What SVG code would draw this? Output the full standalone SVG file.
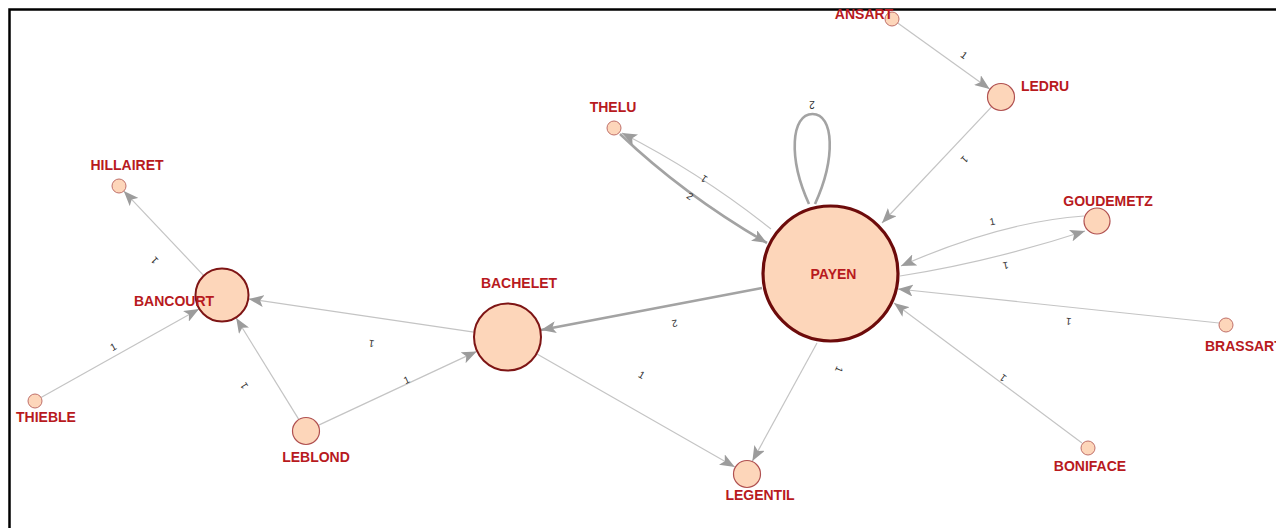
<svg xmlns="http://www.w3.org/2000/svg" width="1276" height="528" viewBox="0 0 1276 528">
<style>
.bg{fill:#fff}
.frame{fill:none;stroke:#000;stroke-width:2.5}
.e{fill:none;stroke:#c4c4c4;stroke-width:1.2}
.e2{fill:none;stroke:#a3a3a3;stroke-width:2.6}
.n{fill:#fdd6ba;stroke:#c0706a;stroke-width:1}
.nm{fill:#fdd6ba;stroke:#b05050;stroke-width:1.2}
.nb{fill:#fdd6ba;stroke:#7e1515;stroke-width:2}
.nx{fill:#fdd6ba;stroke:#6d0b0b;stroke-width:3.2}
.lbl{font-family:"Liberation Sans",Arial,sans-serif;font-size:14px;font-weight:bold;fill:#b81a1e}
.el{font-family:"Liberation Sans",Arial,sans-serif;font-size:10px;fill:#333;text-anchor:middle}
</style>
<defs>
<marker id="ah" markerUnits="userSpaceOnUse" markerWidth="16" markerHeight="12" refX="15" refY="6" orient="auto">
<path d="M0,0 L15,6 L0,12 L3.5,6 z" fill="#9c9c9c"/>
</marker>
</defs>
<rect class="bg" x="0" y="0" width="1276" height="528"/>
<path class="frame" d="M9.5,528 V9.5 H1276"/>
<g id="connectors">
<line class="e" x1="203.5" y1="275.4" x2="123.8" y2="191.1" marker-end="url(#ah)"/>
<line class="e" x1="41" y1="397.5" x2="199" y2="309" marker-end="url(#ah)"/>
<line class="e" x1="298.6" y1="419.1" x2="236.2" y2="318" marker-end="url(#ah)"/>
<line class="e" x1="473.9" y1="332.1" x2="248.7" y2="298.9" marker-end="url(#ah)"/>
<line class="e" x1="318.7" y1="425.1" x2="476.7" y2="351.4" marker-end="url(#ah)"/>
<line class="e" x1="537" y1="353.9" x2="734.8" y2="467" marker-end="url(#ah)"/>
<line class="e2" x1="762" y1="288" x2="541" y2="330" marker-end="url(#ah)"/>
<line class="e" x1="817" y1="343" x2="752.4" y2="461.1" marker-end="url(#ah)"/>
<path class="e2" d="M620,134 Q684,195 767,243" marker-end="url(#ah)"/>
<path class="e" d="M771,229 Q702,174 622,133" marker-end="url(#ah)"/>
<path class="e2" d="M809,204 C788,158 791,114 812.5,114 C834,114 836,158 815,204"/>
<line class="e" x1="897.7" y1="23.1" x2="989.6" y2="88.9" marker-end="url(#ah)"/>
<line class="e" x1="991.3" y1="107.1" x2="882" y2="223" marker-end="url(#ah)"/>
<path class="e" d="M1084,216 Q1000,222 901,266" marker-end="url(#ah)"/>
<path class="e" d="M900,276 Q990,262 1085,231" marker-end="url(#ah)"/>
<line class="e" x1="1219" y1="323" x2="898" y2="289" marker-end="url(#ah)"/>
<line class="e" x1="1082" y1="443" x2="894" y2="303" marker-end="url(#ah)"/>
<text class="el" transform="translate(157,258) rotate(226)">1</text>
<text class="el" transform="translate(115,350) rotate(-29)">1</text>
<text class="el" transform="translate(247,384) rotate(238)">1</text>
<text class="el" transform="translate(372,340) rotate(188)">1</text>
<text class="el" transform="translate(408,383) rotate(-25)">1</text>
<text class="el" transform="translate(640,378) rotate(30)">1</text>
<text class="el" transform="translate(674,320) rotate(169)">2</text>
<text class="el" transform="translate(836,368) rotate(113)">1</text>
<text class="el" transform="translate(706,176) rotate(214)">1</text>
<text class="el" transform="translate(688,199) rotate(34)">2</text>
<text class="el" transform="translate(812,101) rotate(180)">2</text>
<text class="el" transform="translate(962,58) rotate(36)">1</text>
<text class="el" transform="translate(962,157) rotate(134)">1</text>
<text class="el" transform="translate(993,225) rotate(-12)">1</text>
<text class="el" transform="translate(1005,262) rotate(168)">1</text>
<text class="el" transform="translate(1069,318) rotate(186)">1</text>
<text class="el" transform="translate(1005,375) rotate(217)">1</text>
</g>
<g id="HILLAIRET"><circle class="n" cx="119" cy="186" r="7"/><text class="lbl" x="127" y="170" text-anchor="middle">HILLAIRET</text></g>
<g id="BANCOURT"><circle class="nb" cx="222" cy="295" r="26.5"/><text class="lbl" x="174" y="306" text-anchor="middle">BANCOURT</text></g>
<g id="THIEBLE"><circle class="n" cx="35" cy="401" r="7"/><text class="lbl" x="46" y="422" text-anchor="middle">THIEBLE</text></g>
<g id="LEBLOND"><circle class="nm" cx="306" cy="431" r="13.5"/><text class="lbl" x="316" y="462" text-anchor="middle">LEBLOND</text></g>
<g id="BACHELET"><circle class="nb" cx="507.5" cy="337" r="33.5"/><text class="lbl" x="519" y="288" text-anchor="middle">BACHELET</text></g>
<g id="LEGENTIL"><circle class="nm" cx="747" cy="474" r="13.5"/><text class="lbl" x="760" y="500" text-anchor="middle">LEGENTIL</text></g>
<g id="PAYEN"><circle class="nx" cx="830.5" cy="273.5" r="67.5"/><text class="lbl" x="833.5" y="279" text-anchor="middle">PAYEN</text></g>
<g id="THELU"><circle class="n" cx="614" cy="128" r="7"/><text class="lbl" x="613" y="112" text-anchor="middle">THELU</text></g>
<g id="ANSART"><circle class="n" cx="892" cy="19" r="7"/><text class="lbl" x="864" y="19" text-anchor="middle">ANSART</text></g>
<g id="LEDRU"><circle class="nm" cx="1001" cy="97" r="13.5"/><text class="lbl" x="1045" y="91" text-anchor="middle">LEDRU</text></g>
<g id="GOUDEMETZ"><circle class="nm" cx="1097" cy="221" r="13"/><text class="lbl" x="1108" y="206" text-anchor="middle">GOUDEMETZ</text></g>
<g id="BRASSART"><circle class="n" cx="1226" cy="325" r="7"/><text class="lbl" x="1205" y="351">BRASSART</text></g>
<g id="BONIFACE"><circle class="n" cx="1088" cy="448" r="7"/><text class="lbl" x="1090" y="471" text-anchor="middle">BONIFACE</text></g>
</svg>
